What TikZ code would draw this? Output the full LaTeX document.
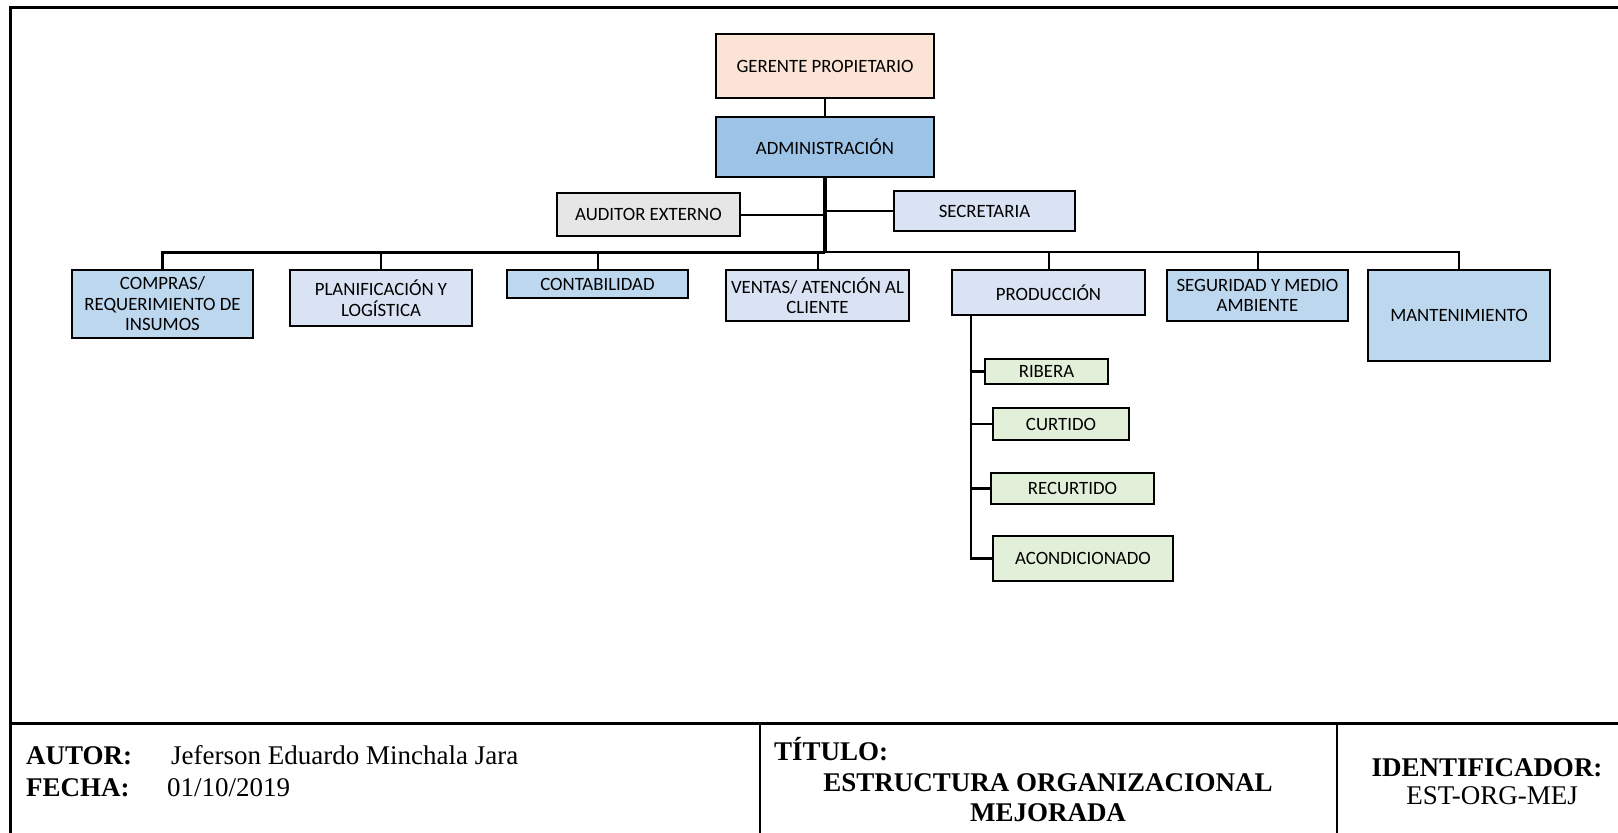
\documentclass[tikz,border=0pt]{standalone}
\usepackage{fontspec}
\setmainfont{Carlito}
\newfontfamily\tnr{Liberation Serif}
\definecolor{cpeach}{HTML}{FBE4D5}
\definecolor{cadm}{HTML}{9DC3E6}
\definecolor{cgrey}{HTML}{E7E6E6}
\definecolor{clight}{HTML}{DAE3F3}
\definecolor{cmid}{HTML}{BDD7EE}
\definecolor{cgreen}{HTML}{E2F0D9}
\tikzset{
  box/.style={draw, line width=2.2pt, align=center, inner sep=0pt,
    font=\fontsize{18.8}{20.5}\selectfont},
  conn/.style={line width=2pt},
  frame/.style={line width=3pt},
  foot/.style={font=\tnr\fontsize{27}{30}\selectfont, inner sep=0pt},
  footb/.style={font=\tnr\bfseries\fontsize{27}{30}\selectfont, inner sep=0pt},
}
\begin{document}
\begin{tikzpicture}[x=1pt,y=-1pt]
\useasboundingbox (0,0) rectangle (1618,833);
% frame
\draw[frame] (1618,7) -- (10,7) -- (10,833);
\draw[frame] (10,723) -- (1618,723);
\draw[line width=2pt] (760,723) -- (760,833);
\draw[line width=2pt] (1337,723) -- (1337,833);

% boxes
\node[box, fill=cpeach, minimum width=218pt, minimum height=64pt] (ger) at (825,66) {GERENTE PROPIETARIO};
\node[box, fill=cadm, minimum width=218pt, minimum height=60pt] (adm) at (825,147) {ADMINISTRACIÓN};
\node[box, fill=cgrey, minimum width=183pt, minimum height=43pt] (aud) at (648.5,214.5) {AUDITOR EXTERNO};
\node[box, fill=clight, minimum width=181pt, minimum height=40pt] (sec) at (984.5,211) {SECRETARIA};

\node[box, fill=cmid, minimum width=181pt, minimum height=68pt] (comp) at (162.5,304) {COMPRAS/\\REQUERIMIENTO DE\\INSUMOS};
\node[box, fill=clight, minimum width=182pt, minimum height=56pt] (plan) at (381,298) {PLANIFICACIÓN Y\\LOGÍSTICA};
\node[box, fill=cmid, minimum width=181pt, minimum height=28pt] (cont) at (597.5,284) {CONTABILIDAD};
\node[box, fill=clight, minimum width=183pt, minimum height=51pt] (vent) at (817.5,295.5) {VENTAS/ ATENCIÓN AL\\CLIENTE};
\node[box, fill=clight, minimum width=193pt, minimum height=45pt] (prod) at (1048.5,292.5) {PRODUCCIÓN};
\node[box, fill=cmid, minimum width=181pt, minimum height=51pt] (seg) at (1257.5,295.5) {SEGURIDAD Y MEDIO\\AMBIENTE};
\node[box, fill=cmid, minimum width=182pt, minimum height=91pt] (mant) at (1459,315.5) {MANTENIMIENTO};

\node[box, fill=cgreen, minimum width=123pt, minimum height=25pt] (rib) at (1046.5,371.5) {RIBERA};
\node[box, fill=cgreen, minimum width=136pt, minimum height=32pt] (cur) at (1061,424) {CURTIDO};
\node[box, fill=cgreen, minimum width=163pt, minimum height=31pt] (rec) at (1072.5,488.5) {RECURTIDO};
\node[box, fill=cgreen, minimum width=180pt, minimum height=45pt] (aco) at (1083,558.5) {ACONDICIONADO};

% connectors
\coordinate (bus) at (825,252);
\draw[conn] (ger.south) -- (adm.north);
\draw[line width=3.5pt] (adm.south) -- (bus);
\draw[conn] (aud.east) -- (aud.east -| adm.south);
\draw[conn] (sec.west) -- (sec.west -| adm.south);
\draw[line width=3pt] (bus) -| (comp.north);
\draw[conn] (bus) -| (mant.north);
\draw[conn] (plan.north) -- (plan.north |- bus);
\draw[conn] (cont.north) -- (cont.north |- bus);
\draw[conn] (vent.north) -- (vent.north |- bus);
\draw[conn] (prod.north) -- (prod.north |- bus);
\draw[conn] (seg.north) -- (seg.north |- bus);

\coordinate (pt) at ([xshift=20pt]prod.south west);
\draw[line width=2.5pt] (pt) |- (aco.west);
\draw[line width=2.5pt] (rib.west) -- (rib.west -| pt);
\draw[line width=2.5pt] (cur.west) -- (cur.west -| pt);
\draw[line width=2.5pt] (rec.west) -- (rec.west -| pt);

% footer
\node[footb, anchor=base west] (autl) at (26,764) {AUTOR:};
\node[foot, anchor=base west] (autv) at (171,764) {Jeferson Eduardo Minchala Jara};
\node[footb, anchor=base west] (fecl) at (26,796) {FECHA:};
\node[foot, anchor=base west] (fecv) at (167,796) {01/10/2019};
\node[footb, anchor=base west] (titl) at (774,760) {TÍTULO:};
\node[footb, anchor=base] (tit1) at (1048,791) {ESTRUCTURA ORGANIZACIONAL};
\node[footb, anchor=base] (tit2) at (1048,821) {MEJORADA};
\node[footb, anchor=base] (idl) at (1487,776) {IDENTIFICADOR:};
\node[foot, anchor=base] (idv) at (1492,804) {EST-ORG-MEJ};
\end{tikzpicture}
\end{document}
